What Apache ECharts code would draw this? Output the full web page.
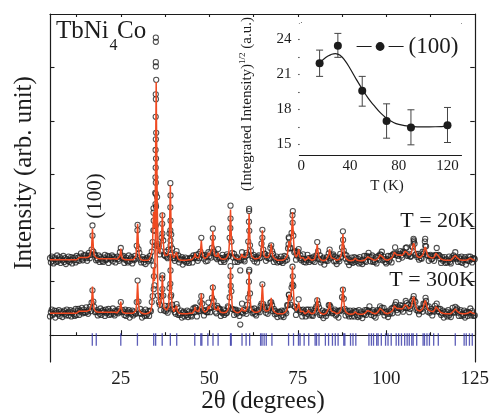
<!DOCTYPE html>
<html><head><meta charset="utf-8">
<script src="https://cdn.jsdelivr.net/npm/echarts@6/dist/echarts.min.js"></script>
<style>html,body{margin:0;padding:0;background:#fff}#c{width:492px;height:420px}</style>
</head><body><div id="c"></div>
<script>
// ---- Main pattern: 2theta grid (degrees) ----
const twoThetaStart = 5;
const twoThetaStep = 0.25;

// Calculated (Rietveld) profile, T = 20 K
const calc20 = [
141,141,141,141,141,141,141,141,141,141,141,141,141,141,141,141,141,141,141,141,
141,141,141,141,141,141,141,141,141,141,141,143,144,145,145,145,145,145,145,145,
145,145,145,145,147,148,150,163,199,163,149,146,145,143,143,143,143,143,143,143,
143,143,143,143,143,143,143,143,143,143,143,143,143,143,143,143,142,143,143,148,
162,148,143,142,141,141,141,141,141,141,141,141,141,141,141,141,142,147,164,208,
164,147,142,141,140,140,140,140,140,140,140,140,142,144,146,155,177,230,200,264,
473,258,177,161,153,156,176,229,175,154,149,149,149,150,157,190,280,190,156,149,
145,145,147,155,146,142,141,141,140,140,140,140,140,140,140,140,140,141,141,141,
141,141,143,146,153,146,143,143,144,147,156,177,156,147,144,143,142,144,147,154,
149,147,149,163,194,163,149,146,146,147,154,147,144,143,142,142,142,142,142,143,
146,148,154,179,235,179,154,148,146,144,143,142,142,142,142,143,146,152,146,145,
144,145,147,153,176,227,176,153,147,145,144,143,143,143,143,144,144,145,149,164,
196,164,149,146,145,145,145,146,148,155,171,155,147,144,143,142,141,140,140,140,
140,140,140,140,141,142,143,145,148,159,176,164,163,187,230,185,158,150,146,147,
152,161,151,144,142,142,145,142,140,140,141,143,147,143,141,140,140,141,141,142,
145,155,170,155,145,142,141,140,140,139,140,140,141,141,143,150,161,150,145,145,
148,143,141,140,140,140,141,142,144,149,164,189,164,149,144,142,141,140,139,139,
139,139,139,140,141,144,141,140,139,139,139,139,139,139,139,140,141,142,144,146,
149,147,144,143,142,141,140,140,140,141,142,144,146,150,152,150,146,144,142,141,
140,140,141,141,142,143,144,146,150,155,158,155,150,148,149,150,152,150,149,149,
153,157,160,158,154,150,148,149,152,158,167,172,166,157,151,147,146,145,145,146,
146,149,153,160,165,160,153,148,146,145,145,144,143,144,145,148,153,156,153,148,
145,143,142,141,141,140,140,140,140,140,140,140,140,140,142,143,145,147,149,147,
145,143,142,141,140,140,140,140,140,140,140,140,141,142,143,144,143,142,141,140,
140];

// Observed points, T = 20 K
const obs20 = [
144,136,147,139,134,145,142,137,149,138,141,146,135,143,140,148,137,144,133,142,
139,147,137,141,146,134,144,140,145,136,148,140,145,139,147,153,143,140,149,145,
150,144,139,148,154,144,150,160,205,156,151,150,140,144,141,149,137,146,143,139,
137,145,150,140,142,148,135,147,144,141,149,138,146,143,136,145,147,142,139,155,
163,144,146,148,135,141,145,139,136,149,138,143,146,134,142,140,148,143,167,206,
161,154,141,136,142,146,136,141,133,143,145,138,142,148,140,156,174,237,195,266,
477,258,170,166,151,157,182,224,177,150,148,156,146,144,160,190,284,188,162,144,
144,139,151,157,143,149,136,141,143,146,132,141,138,145,136,143,139,135,143,145,
144,136,149,144,146,150,144,139,152,144,156,182,150,149,143,150,138,147,139,155,
147,153,145,163,199,156,152,145,150,142,161,144,145,137,144,150,140,137,146,143,
151,147,148,182,242,175,154,145,152,137,145,146,137,143,140,121,140,155,146,141,
138,147,154,150,175,232,168,157,148,143,150,138,146,143,136,146,149,144,145,171,
197,160,152,152,139,145,149,144,143,163,168,157,152,137,144,141,147,136,143,138,
137,147,139,135,143,148,139,146,141,162,181,162,163,191,224,186,155,157,141,149,
156,161,144,149,140,143,151,137,142,136,140,150,144,137,144,140,144,139,147,137,
144,149,174,157,142,149,136,140,143,145,132,141,139,146,139,153,160,144,147,149,
151,138,147,138,133,144,142,138,152,146,164,194,158,151,143,149,137,143,131,140,
137,145,135,140,146,137,144,139,143,134,146,136,140,133,141,148,139,137,148,146,
154,146,138,146,149,137,140,137,146,134,144,148,141,151,150,156,140,147,142,137,
134,142,148,138,141,148,136,150,151,153,164,150,153,148,142,152,157,149,145,156,
154,153,163,164,148,150,152,147,147,166,164,174,171,150,152,146,152,141,148,144,
143,156,152,155,167,166,149,149,139,148,150,142,143,148,139,149,150,163,148,150,
149,143,135,146,139,141,146,135,142,136,139,147,137,134,145,143,149,145,155,142,
144,137,146,143,137,147,135,140,143,146,132,141,139,147,139,147,142,136,143,144,
142];

// Calculated profile, T = 300 K
const calc300 = [
41,41,41,41,41,41,41,41,41,41,41,41,41,41,41,41,41,41,41,41,
41,41,41,41,41,41,41,41,41,41,41,43,44,45,45,45,45,45,45,45,
45,45,45,45,46,47,49,60,91,60,48,45,44,43,43,43,43,43,43,43,
43,43,43,43,43,43,43,43,43,43,43,43,43,43,43,43,42,43,43,49,
63,49,43,42,41,41,41,41,41,41,41,41,41,41,41,41,42,46,60,98,
60,46,43,42,40,40,40,40,40,40,40,40,42,44,46,55,77,127,101,167,
380,161,78,62,52,54,70,113,70,51,48,48,47,48,53,80,152,80,53,48,
44,44,46,55,45,42,41,41,40,40,40,40,40,40,40,40,40,41,41,41,
41,41,43,46,53,46,43,43,44,47,56,78,56,47,44,43,42,44,47,54,
49,47,49,64,95,64,49,46,46,47,54,47,44,43,42,42,42,42,42,43,
45,47,53,76,127,76,53,47,45,44,43,42,42,42,42,43,46,52,46,45,
44,45,47,52,72,118,72,52,47,45,44,43,43,43,43,44,44,45,49,64,
96,64,49,46,45,45,45,46,48,55,70,55,47,44,43,42,41,40,40,40,
40,40,40,40,41,42,43,45,48,59,76,64,63,87,129,85,58,50,46,47,
52,61,51,44,42,42,45,42,40,40,41,43,47,43,41,40,40,41,41,42,
45,55,71,55,45,42,41,40,40,39,40,40,41,41,43,50,62,50,45,45,
48,43,41,40,40,40,41,42,44,49,65,90,65,49,44,42,41,40,39,39,
39,39,39,40,41,44,41,40,39,39,39,39,39,39,39,40,41,42,44,46,
49,47,44,43,42,41,40,40,40,41,42,44,46,50,52,50,46,44,42,41,
40,40,41,41,42,43,44,46,50,55,58,55,50,48,49,50,52,50,49,49,
53,57,60,58,54,50,48,49,52,58,67,72,66,57,51,47,46,45,45,46,
46,49,53,60,65,60,53,48,46,45,45,44,43,44,45,48,53,56,53,48,
45,43,42,41,41,40,40,40,40,40,40,40,40,40,42,43,45,47,49,47,
45,43,42,41,40,40,40,40,40,40,40,40,41,42,43,44,43,42,41,40,
40];

// Observed points, T = 300 K
const obs300 = [
35,43,48,38,40,46,33,45,42,39,47,36,44,41,34,43,46,40,37,48,
42,37,44,47,35,41,45,39,36,49,38,45,49,38,46,44,51,41,48,43,
42,52,44,40,48,53,45,61,84,63,53,43,44,47,37,44,40,50,38,45,
47,43,36,48,41,44,49,38,45,39,42,50,40,37,46,43,46,41,49,44,
62,43,47,44,38,48,36,41,44,47,33,42,39,46,37,44,41,40,62,102,
63,41,49,40,33,44,41,36,48,37,40,45,36,46,45,62,73,130,93,168,
378,167,74,62,57,47,73,112,74,46,55,45,48,42,55,88,150,75,57,48,
49,43,40,58,52,38,41,38,46,33,42,44,35,41,38,46,34,44,41,37,
35,43,50,43,52,51,35,47,45,45,62,73,59,47,37,45,47,43,43,61,
50,43,52,70,89,64,53,44,41,55,51,49,49,36,43,41,48,38,45,41,
42,54,52,71,129,82,49,48,38,47,48,40,42,46,36,20,43,59,41,47,
48,45,40,57,70,119,78,47,49,41,43,50,40,37,46,44,48,43,55,59,
95,58,53,48,42,52,40,46,51,61,62,56,45,49,39,45,40,34,42,44,
43,35,46,38,34,46,44,41,56,56,76,69,57,89,128,92,54,53,38,48,
50,67,47,44,47,35,48,41,44,35,48,40,48,37,43,48,38,36,45,42,
50,54,65,58,52,38,41,37,46,32,42,44,36,42,41,56,56,53,45,41,
42,45,48,37,39,45,33,46,45,47,71,85,68,49,37,44,46,39,35,46,
40,35,42,46,35,44,45,38,34,47,36,41,44,32,40,39,47,38,47,44,
46,54,43,38,44,47,36,41,33,44,47,42,46,54,46,51,43,51,37,43,
44,40,34,46,40,44,50,41,52,51,57,62,47,42,52,50,56,48,55,44,
52,51,64,60,51,57,43,49,55,64,59,73,64,62,47,50,45,39,47,50,
49,44,59,58,58,64,54,44,54,42,45,49,37,46,44,55,49,59,45,49,
43,49,38,41,46,33,43,39,44,35,47,37,41,34,44,51,43,42,53,47,
50,42,36,44,47,36,40,37,46,33,42,44,36,43,41,50,37,45,41,36,
37];

// Extra observed points read on the steep flanks of strong peaks [2theta, I]
const obs20Extra = [
[34.9,556],[34.9,548],[34.9,510],[34.9,502],[34.88,450],[34.92,441],[34.86,408],[34.9,366],
[34.83,346],[34.86,313],[34.8,295],[34.86,264],[34.8,245],[34.25,229],[34.3,214],[34.2,196],
[36.7,208],[36.75,190],[39.05,261],[39.0,239],[39.05,214],[39.0,196],[39.05,177],
[29.7,196],[17.0,186],[51.0,182],[56.0,218],[55.95,200],[61.25,236],[61.2,212],[61.3,195],
[65.0,182],[73.6,232],[73.55,210],[72.45,183],[72.4,170],[87.8,178],
[107.7,180],[107.8,177],[111.0,180],[110.9,175]];
const obs300Extra = [
[34.95,330],[34.9,285],[34.95,240],[34.9,205],[34.35,110],[34.3,86],
[36.7,106],[36.75,86],[39.05,168],[39.0,146],[39.05,121],[39.0,96],[39.1,72],
[56.0,110],[56.05,92],[61.3,122],[61.2,100],[73.6,110],[73.5,95],[72.5,75],
[107.6,68],[111.1,70]];

// Bragg reflection positions (degrees)
const braggPositions = [16.95,18.07,25.0,29.7,34.3,34.85,36.7,39.0,40.8,45.9,47.6,47.9,49.6,51.05,52.5,
56.0,56.2,59.25,60.4,61.4,64.5,64.9,65.5,66.1,67.7,72.4,73.8,75.2,75.65,76.8,78.1,79.9,80.3,81.0,
82.8,83.7,84.8,85.6,86.4,88.0,88.3,89.9,90.6,91.4,95.1,95.8,96.4,97.3,97.7,98.6,99.8,100.5,101.4,
102.8,103.5,104.3,105.2,105.9,106.5,107.2,107.6,108.6,110.4,110.8,111.5,112.2,113.4,114.7,119.5,
122.0,122.6,123.5,124.3];

// Axis ticks / labels
const xMajorTicks = [25, 50, 75, 100, 125];
const xMinorTicks = [12.5, 37.5, 62.5, 87.5, 112.5];
const xTopTicks = [12.5, 25, 37.5, 50, 62.5, 75, 87.5, 100, 112.5];
const yTicks = [0, 100, 200, 300, 400, 500];

// ---- Inset: (100) peak vs temperature ----
const insetTemps = [15, 30, 50, 70, 90, 120];
const insetValues = [21.95, 23.45, 19.6, 17.0, 16.45, 16.65];
const insetErrLow = [20.83, 22.46, 18.28, 15.54, 14.97, 15.17];
const insetErrHigh = [23.08, 24.51, 20.83, 18.48, 17.97, 18.17];
const insetFitT = [15, 20, 25, 28, 32, 36, 40, 45, 50, 55, 60, 65, 70, 75, 80, 90, 100, 110, 120];
const insetFitValues = [21.95, 22.45, 22.72, 22.78, 22.62, 22.15, 21.5, 20.6, 19.75, 18.95, 18.3, 17.7, 17.25, 16.92, 16.72, 16.55, 16.5, 16.52, 16.58];
const insetXMajor = [0, 40, 80, 120];
const insetXMinor = [20, 60, 100];
const insetXTop = [0, 20, 40, 60, 80, 100, 120];
const insetYMajor = [15, 18, 21, 24];
const insetYMinor = [16.5, 19.5, 22.5];
const insetYRight = [15, 16.5, 18, 19.5, 21, 22.5, 24];

// ---- build ----
const FONT = '"Liberation Serif","Times New Roman",serif';
const INK = '#1c1c1c';
const RED = '#ef4a22';
const BLUE = '#3436a6';
const onGrid = arr => arr.map((v, i) => [twoThetaStart + i * twoThetaStep, v]);
const braggRow = -8;

const axisLineStyle = { color: INK, width: 1.2 };
function makeAxis(grid, min, max, pos, ticks, len, labels, lineShow, labelOpt) {
  return {
    gridIndex: grid, type: 'value', min: min, max: max, position: pos,
    axisLine: { show: lineShow, lineStyle: axisLineStyle },
    axisTick: { show: true, inside: true, length: len, customValues: ticks, lineStyle: { color: INK, width: 1.1 } },
    axisLabel: labels ? Object.assign({ show: true, customValues: labels, color: INK, fontFamily: FONT }, labelOpt) : { show: false },
    splitLine: { show: false }
  };
}

const circleStyle = { color: 'rgba(255,255,255,0)', borderColor: '#222', borderWidth: 1.05 };

const option = {
  animation: false,
  backgroundColor: '#fff',
  grid: [
    { left: 50, top: 14, width: 428, height: 348 },
    { left: 299.5, top: 23, width: 162, height: 132, show: true, backgroundColor: '#fff', borderWidth: 0, z: 1 }
  ],
  xAxis: [
    makeAxis(0, 5, 125, 'bottom', xMajorTicks, 5, xMajorTicks, true, { fontSize: 19, margin: 8 }),
    makeAxis(0, 5, 125, 'bottom', xMinorTicks, 3, null, false),
    makeAxis(0, 5, 125, 'top', xTopTicks, 3, null, true),
    makeAxis(1, -1.5, 131.5, 'bottom', insetXMajor, 4, insetXMajor, true, { fontSize: 15, margin: 4 }),
    makeAxis(1, -1.5, 131.5, 'bottom', insetXMinor, 2.5, null, false),
    makeAxis(1, -1.5, 131.5, 'top', insetXTop, 3, null, true)
  ],
  yAxis: [
    makeAxis(0, -50, 600, 'left', yTicks, 4.5, null, true),
    makeAxis(0, -50, 600, 'right', yTicks, 4.5, null, true),
    makeAxis(1, 14.1, 25.4, 'left', insetYMajor, 4, insetYMajor, true, { fontSize: 15, margin: 8 }),
    makeAxis(1, 14.1, 25.4, 'left', insetYMinor, 2.5, null, false),
    makeAxis(1, 14.1, 25.4, 'right', insetYRight, 3, null, true)
  ],
  legend: {
    show: true, z: 20, data: ['(100)'], left: 351, top: 30, itemWidth: 47, itemHeight: 11, itemGap: 4,
    selectedMode: false,
    textStyle: { fontFamily: FONT, fontSize: 23, color: INK },
    lineStyle: { opacity: 1, width: 1.2, color: INK, type: [15, 17] },
    itemStyle: { color: INK, borderWidth: 0 }
  },
  series: [
    { type: 'scatter', name: 'obs20', xAxisIndex: 0, yAxisIndex: 0, data: onGrid(obs20).concat(obs20Extra),
      symbol: 'circle', symbolSize: 5.2, itemStyle: circleStyle, z: 2, silent: true },
    { type: 'scatter', name: 'obs300', xAxisIndex: 0, yAxisIndex: 0, data: onGrid(obs300).concat(obs300Extra),
      symbol: 'circle', symbolSize: 5.2, itemStyle: circleStyle, z: 2, silent: true },
    { type: 'line', name: 'calc20', xAxisIndex: 0, yAxisIndex: 0, data: onGrid(calc20), showSymbol: false, symbol: 'none',
      lineStyle: { color: RED, width: 1.5 }, z: 3, silent: true },
    { type: 'line', name: 'calc300', xAxisIndex: 0, yAxisIndex: 0, data: onGrid(calc300), showSymbol: false, symbol: 'none',
      lineStyle: { color: RED, width: 1.5 }, z: 3, silent: true },
    { type: 'scatter', name: 'bragg', xAxisIndex: 0, yAxisIndex: 0, data: braggPositions.map(p => [p, braggRow]),
      symbol: 'rect', symbolSize: [1.3, 12.5], itemStyle: { color: BLUE }, z: 2, silent: true },
    { type: 'line', name: 'fit', xAxisIndex: 3, yAxisIndex: 2, data: insetFitT.map((t, i) => [t, insetFitValues[i]]),
      smooth: 0.5, showSymbol: false, symbol: 'none', lineStyle: { color: INK, width: 1.2 }, z: 6, silent: true },
    { type: 'custom', name: 'err', xAxisIndex: 3, yAxisIndex: 2,
      data: insetTemps.map((t, i) => [t, insetErrLow[i], insetErrHigh[i]]),
      encode: { x: 0, y: [1, 2] }, z: 6, silent: true,
      renderItem: function (params, api) {
        const x = api.value(0);
        const lo = api.coord([x, api.value(1)]);
        const hi = api.coord([x, api.value(2)]);
        const w = 3.5, st = { stroke: '#444', lineWidth: 1 };
        return { type: 'group', children: [
          { type: 'line', shape: { x1: lo[0], y1: lo[1], x2: hi[0], y2: hi[1] }, style: st },
          { type: 'line', shape: { x1: lo[0] - w, y1: lo[1], x2: lo[0] + w, y2: lo[1] }, style: st },
          { type: 'line', shape: { x1: hi[0] - w, y1: hi[1], x2: hi[0] + w, y2: hi[1] }, style: st }
        ] };
      } },
    { type: 'line', name: '(100)', xAxisIndex: 3, yAxisIndex: 2, data: insetTemps.map((t, i) => [t, insetValues[i]]),
      symbol: 'circle', symbolSize: 8, showSymbol: true, lineStyle: { opacity: 0, width: 0 },
      itemStyle: { color: INK }, z: 7, silent: true }
  ],
  graphic: [
    { type: 'text', x: 56, y: 31.5, style: { text: 'TbNi', fontSize: 25, fontFamily: FONT, fill: INK, align: 'left', verticalAlign: 'middle' } },
    { type: 'text', x: 109.5, y: 46, style: { text: '4', fontSize: 16, fontFamily: FONT, fill: INK, align: 'left', verticalAlign: 'middle' } },
    { type: 'text', x: 117, y: 31.5, style: { text: 'Co', fontSize: 25, fontFamily: FONT, fill: INK, align: 'left', verticalAlign: 'middle' } },
    { type: 'text', x: 95, y: 196, rotation: Math.PI / 2, style: { text: '(100)', fontSize: 21, fontFamily: FONT, fill: INK, align: 'center', verticalAlign: 'middle' } },
    { type: 'text', x: 475, y: 221, style: { text: 'T = 20K', fontSize: 22, fontFamily: FONT, fill: INK, align: 'right', verticalAlign: 'middle' } },
    { type: 'text', x: 475, y: 280, style: { text: 'T = 300K', fontSize: 22, fontFamily: FONT, fill: INK, align: 'right', verticalAlign: 'middle' } },
    { type: 'text', x: 263, y: 401, style: { text: '2θ (degrees)', fontSize: 25, fontFamily: FONT, fill: INK, align: 'center', verticalAlign: 'middle' } },
    { type: 'text', x: 24, y: 173, rotation: Math.PI / 2, style: { text: 'Intensity (arb. unit)', fontSize: 25, fontFamily: FONT, fill: INK, align: 'center', verticalAlign: 'middle' } },
    { type: 'text', x: 387, y: 186, style: { text: 'T (K)', fontSize: 15, fontFamily: FONT, fill: INK, align: 'center', verticalAlign: 'middle' } },
    { type: 'text', x: 247, y: 104, rotation: Math.PI / 2, z: 10, style: {
      text: '{n|(Integrated Intensity)}{s|1/2}{n| (a.u.)}', align: 'center', verticalAlign: 'middle', fill: INK,
      rich: { n: { fontSize: 15, fontFamily: FONT, lineHeight: 17, fill: INK }, s: { fontSize: 9, fontFamily: FONT, verticalAlign: 'top', lineHeight: 17, fill: INK } } } }
  ]
};

const chart = echarts.init(document.getElementById('c'), null, { renderer: 'canvas' });
chart.setOption(option);
</script>
</body></html>
